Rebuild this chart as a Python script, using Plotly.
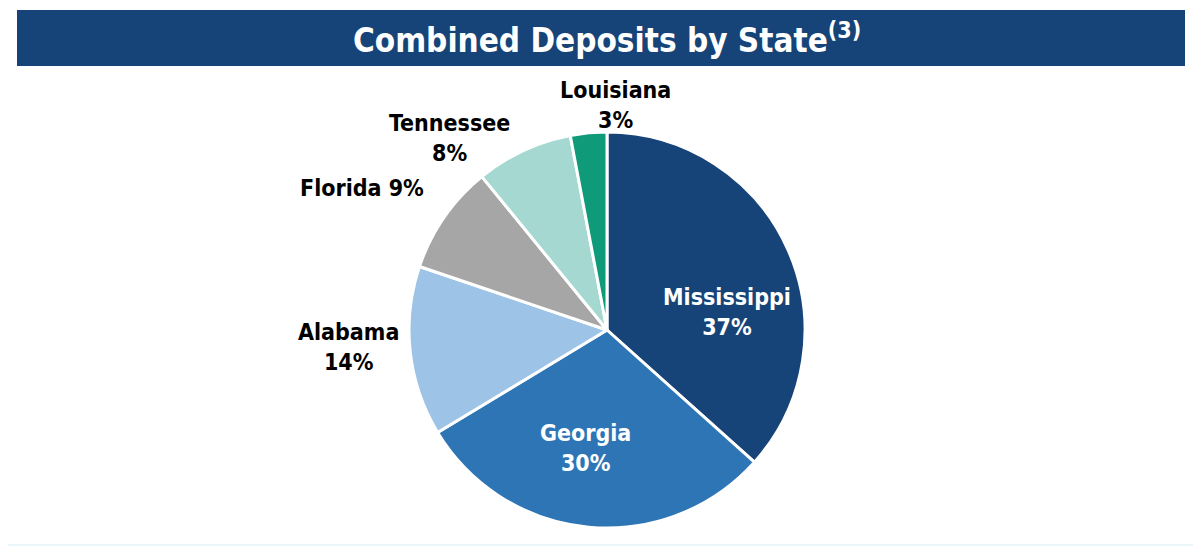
import plotly.graph_objects as go

states = ["Mississippi", "Georgia", "Alabama", "Florida", "Tennessee", "Louisiana"]
shares = [37, 30, 14, 9, 8, 3]
colors = ["#174478", "#2e75b6", "#9dc3e6", "#a6a6a6", "#a5d8d1", "#0f9a7a"]
one_line = {"Florida"}
inside = {"Mississippi", "Georgia"}

# label block centres, in reference pixels (placement only)
label_pos = {
    "Mississippi": (727, 312),
    "Georgia": (585, 448),
    "Alabama": (348, 347),
    "Florida": (362, 188),
    "Tennessee": (449, 138),
    "Louisiana": (615, 105),
}

# the page adds an 8px body margin
OFF = 8
W, H = 1201 - OFF, 553 - OFF


def px(x):
    return (x - OFF) / W


def py(y):
    return 1 - (y - OFF) / H


cx, cy, r = 607, 330, 198
FONT = "DejaVu Sans Condensed"

fig = go.Figure(go.Pie(
    labels=states,
    values=shares,
    textinfo="none",
    sort=False,
    direction="clockwise",
    rotation=0,
    marker=dict(colors=colors, line=dict(color="white", width=3)),
    domain=dict(x=[px(cx - r), px(cx + r)], y=[py(cy + r), py(cy - r)]),
    hoverinfo="label+percent",
    showlegend=False,
))

annotations = [
    dict(text="Combined Deposits by State<sup>(3)</sup>", xref="paper", yref="paper",
         x=px(607), y=py(38), xanchor="center", yanchor="middle", showarrow=False,
         font=dict(family=FONT, size=33, color="white", weight="bold")),
]
for s, v in zip(states, shares):
    txt = f"{s} {v}%" if s in one_line else f"{s}<br>{v}%"
    x, y = label_pos[s]
    annotations.append(dict(
        text=txt, xref="paper", yref="paper", x=px(x), y=py(y),
        xanchor="center", yanchor="middle", showarrow=False, align="center",
        font=dict(family=FONT, size=23, weight="bold",
                  color="white" if s in inside else "black"),
    ))

fig.update_layout(
    width=W, height=H,
    margin=dict(l=0, r=0, t=0, b=0),
    paper_bgcolor="white",
    plot_bgcolor="white",
    shapes=[
        dict(type="rect", xref="paper", yref="paper",
             x0=px(17), x1=px(1185), y0=py(66), y1=py(10),
             fillcolor="#174478", line=dict(width=0), layer="below"),
        dict(type="line", xref="paper", yref="paper",
             x0=px(8), x1=1, y0=py(545), y1=py(545),
             line=dict(color="#eaf6fa", width=2)),
    ],
    annotations=annotations,
)

fig.write_html("out.html")
